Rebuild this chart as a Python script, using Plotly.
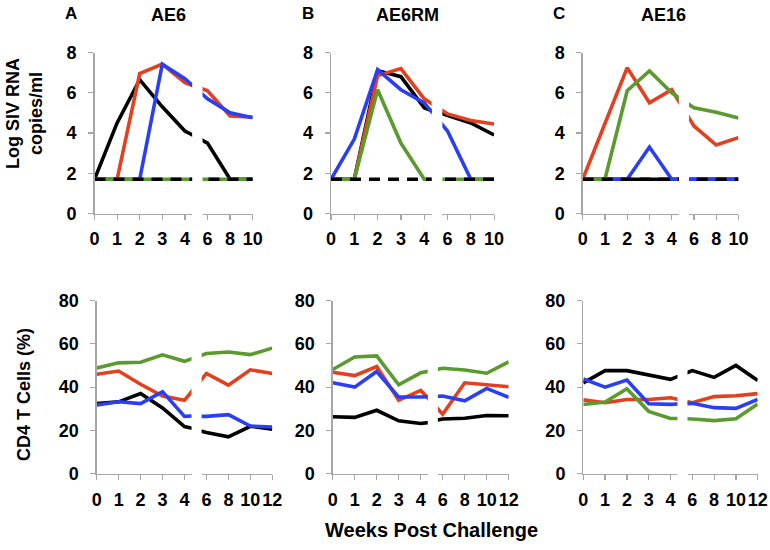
import plotly.graph_objects as go

# ---------------- data ----------------
WEEKS_VL = [0, 1, 2, 3, 4, 6, 8, 10]
WEEKS_CD4 = [0, 1, 2, 3, 4, 6, 8, 10, 12]
VL_TICKS = ["0", "1", "2", "3", "4", "6", "8", "10"]
CD4_TICKS = ["0", "1", "2", "3", "4", "6", "8", "10", "12"]
VL_YTICKS = [0, 2, 4, 6, 8]
CD4_YTICKS = [0, 20, 40, 60, 80]
DETECTION_LIMIT = 1.7

PANEL_LETTERS = ["A", "B", "C"]
PANEL_NAMES = ["AE6", "AE6RM", "AE16"]

# viral load (log SIV RNA copies/ml)
ae6_vl_black = [1.7, 4.5, 6.65, 5.3, 4.1, 3.5, 1.7, 1.7]
ae6_vl_red = [1.7, 1.7, 6.95, 7.42, 6.5, 6.1, 4.85, 4.78]
ae6_vl_blue = [1.7, 1.7, 1.7, 7.42, 6.7, 5.7, 5.0, 4.76]
ae6_vl_green = [1.7, 1.7, 1.7, 1.7, 1.7, 1.7, 1.7, 1.7]

ae6rm_vl_black = [1.7, 1.7, 7.1, 6.8, 5.25, 4.88, 4.5, 3.9]
ae6rm_vl_red = [1.7, 1.7, 6.85, 7.2, 5.7, 4.95, 4.62, 4.45]
ae6rm_vl_blue = [1.7, 3.7, 7.15, 6.15, 5.5, 4.1, 1.7, 1.7]
ae6rm_vl_green = [1.7, 1.7, 6.15, 3.5, 1.7, 1.7, 1.7, 1.7]

ae16_vl_black = [1.7, 1.7, 1.7, 1.7, 1.7, 1.7, 1.7, 1.7]
ae16_vl_red = [1.7, 4.5, 7.25, 5.5, 6.15, 4.35, 3.4, 3.77]
ae16_vl_blue = [1.7, 1.7, 1.7, 3.3, 1.7, 1.7, 1.7, 1.7]
ae16_vl_green = [1.7, 1.7, 6.1, 7.08, 6.0, 5.25, 5.03, 4.75]

# CD4 T cells (%)
ae6_cd4_black = [32.4, 33.2, 37.0, 30.4, 21.8, 19.0, 17.0, 21.9, 20.6]
ae6_cd4_red = [45.9, 47.4, 41.3, 35.9, 33.9, 46.3, 40.9, 48.0, 46.3]
ae6_cd4_blue = [31.7, 33.2, 32.4, 37.9, 26.5, 26.5, 27.3, 22.0, 21.6]
ae6_cd4_green = [48.8, 51.2, 51.5, 54.9, 51.9, 55.5, 56.2, 55.0, 58.0]

ae6rm_cd4_black = [26.3, 26.0, 29.3, 24.4, 23.2, 25.3, 25.6, 26.9, 26.8]
ae6rm_cd4_red = [46.9, 45.3, 49.5, 33.9, 38.5, 27.5, 42.0, 41.0, 40.2]
ae6rm_cd4_blue = [42.0, 40.0, 47.2, 35.4, 35.4, 35.9, 33.7, 39.4, 35.3]
ae6rm_cd4_green = [48.1, 53.9, 54.4, 41.1, 46.6, 48.7, 47.9, 46.4, 51.7]

ae16_cd4_black = [41.9, 47.6, 47.6, 45.6, 43.6, 47.6, 44.5, 50.0, 43.0]
ae16_cd4_red = [34.1, 32.8, 34.3, 34.3, 35.1, 32.8, 35.6, 36.0, 37.0]
ae16_cd4_blue = [43.8, 40.0, 43.3, 32.3, 32.0, 32.5, 30.5, 30.2, 34.3]
ae16_cd4_green = [32.0, 33.1, 39.2, 28.8, 25.5, 25.3, 24.5, 25.4, 32.2]

# ---------------- styling ----------------
W, H = 770, 550
COLORS = {"black": "#000000", "red": "#E2401E", "blue": "#2B3FF2", "green": "#5B9A2E"}
AXIS_COLOR = "#A6A6A6"
FONT = "Liberation Sans, Arial, sans-serif"
LINE_W = 3.6

vl_series = [
    {"black": ae6_vl_black, "red": ae6_vl_red, "blue": ae6_vl_blue, "green": ae6_vl_green},
    {"black": ae6rm_vl_black, "red": ae6rm_vl_red, "blue": ae6rm_vl_blue, "green": ae6rm_vl_green},
    {"black": ae16_vl_black, "red": ae16_vl_red, "blue": ae16_vl_blue, "green": ae16_vl_green},
]
cd4_series = [
    {"black": ae6_cd4_black, "red": ae6_cd4_red, "blue": ae6_cd4_blue, "green": ae6_cd4_green},
    {"black": ae6rm_cd4_black, "red": ae6rm_cd4_red, "blue": ae6rm_cd4_blue, "green": ae6rm_cd4_green},
    {"black": ae16_cd4_black, "red": ae16_cd4_red, "blue": ae16_cd4_blue, "green": ae16_cd4_green},
]

# pixel geometry (window pixels): (x of week 0, spacing per slot)
TOP_X = [(94.5, 22.6), (331.0, 23.3), (582.7, 22.25)]
BOT_X = [(96.7, 21.95), (332.7, 22.0), (583.3, 21.8)]
TOP_Y = (52.5, 213.5)
BOT_Y = (300.5, 473.7)
BREAK_L, BREAK_R = 4.32, 4.78


def fx(px):
    return px / W


def fy(py):
    return 1 - py / H


fig = go.Figure()
layout = {}
axis_idx = [0]


def axis_common():
    return dict(
        showline=True, linecolor=AXIS_COLOR, linewidth=1.3,
        ticks="outside", ticklen=5, tickwidth=1.2, tickcolor=AXIS_COLOR,
        showgrid=False, zeroline=False, automargin=False, fixedrange=True,
        tickfont=dict(family=FONT, size=18, color="black", weight="bold"),
    )


def add_panel(series, weeks, ticktext, yticks, yrange, xgeom, ygeom, dashed):
    positions = list(range(len(weeks)))
    pmax = positions[-1]
    x0, s = xgeom
    parts = [([0, BREAK_L], [p for p in positions if p <= 4]),
             ([BREAK_R, pmax], [p for p in positions if p > 4])]
    first_y = None
    for k, (rng, tv) in enumerate(parts):
        axis_idx[0] += 1
        n = axis_idx[0]
        xa = "xaxis" if n == 1 else f"xaxis{n}"
        ya = "yaxis" if n == 1 else f"yaxis{n}"
        xref = "x" if n == 1 else f"x{n}"
        yref = "y" if n == 1 else f"y{n}"
        xd = axis_common()
        xd.update(range=rng, domain=[fx(x0 + rng[0] * s), fx(x0 + rng[1] * s)],
                  tickvals=tv, ticktext=[ticktext[p] for p in tv], anchor=yref,
                  tickangle=0, ticklabelstandoff=4)
        yd = axis_common()
        yd.update(range=yrange, domain=[fy(ygeom[1]), fy(ygeom[0])], anchor=xref,
                  tickvals=yticks, ticklabelstandoff=8)
        if k == 0:
            first_y = yref
        else:
            yd.update(visible=False, matches=first_y)
        layout[xa] = xd
        layout[ya] = yd
        for color in ["black", "red", "blue", "green"]:
            fig.add_trace(go.Scatter(
                x=positions, y=series[color], mode="lines",
                line=dict(color=COLORS[color], width=LINE_W),
                xaxis=xref, yaxis=yref, showlegend=False, hoverinfo="skip"))
        if dashed:
            fig.add_trace(go.Scatter(
                x=positions, y=[DETECTION_LIMIT] * len(positions), mode="lines",
                line=dict(color="black", width=LINE_W, dash="11px,8px"),
                xaxis=xref, yaxis=yref, showlegend=False, hoverinfo="skip"))


for i in range(3):
    add_panel(vl_series[i], WEEKS_VL, VL_TICKS, VL_YTICKS, [0, 8], TOP_X[i], TOP_Y, True)
for i in range(3):
    add_panel(cd4_series[i], WEEKS_CD4, CD4_TICKS, CD4_YTICKS, [0, 80], BOT_X[i], BOT_Y, False)


def ann(text, px, py, size, angle=0, family=FONT):
    return dict(text=text, x=fx(px), y=fy(py), xref="paper", yref="paper",
                xanchor="center", yanchor="middle", showarrow=False, textangle=angle,
                font=dict(family=family, size=size, color="black"))


annotations = []
letter_x = [71, 307.5, 559]
name_x = [168, 407, 663]
for i in range(3):
    annotations.append(ann(f"<b>{PANEL_LETTERS[i]}</b>", letter_x[i], 13, 17))
    annotations.append(ann(f"<b>{PANEL_NAMES[i]}</b>", name_x[i], 15, 18))
annotations.append(ann("<b>Log SIV RNA<br>copies/ml</b>", 24, 114, 18, -90))
annotations.append(ann("<b>CD4 T Cells (%)</b>", 24, 395, 18, -90))
annotations.append(ann("<b>Weeks Post Challenge</b>", 431, 530, 20))

fig.update_layout(
    width=W, height=H, margin=dict(l=0, r=0, t=0, b=0, autoexpand=False),
    paper_bgcolor="white", plot_bgcolor="white", showlegend=False,
    hovermode=False, annotations=annotations, **layout)

# place the figure at the window origin (remove the default page margin)
fig.write_html("out.html", config={"displayModeBar": False, "staticPlot": True},
               post_script="document.body.style.margin='0';document.body.style.overflow='hidden';")
